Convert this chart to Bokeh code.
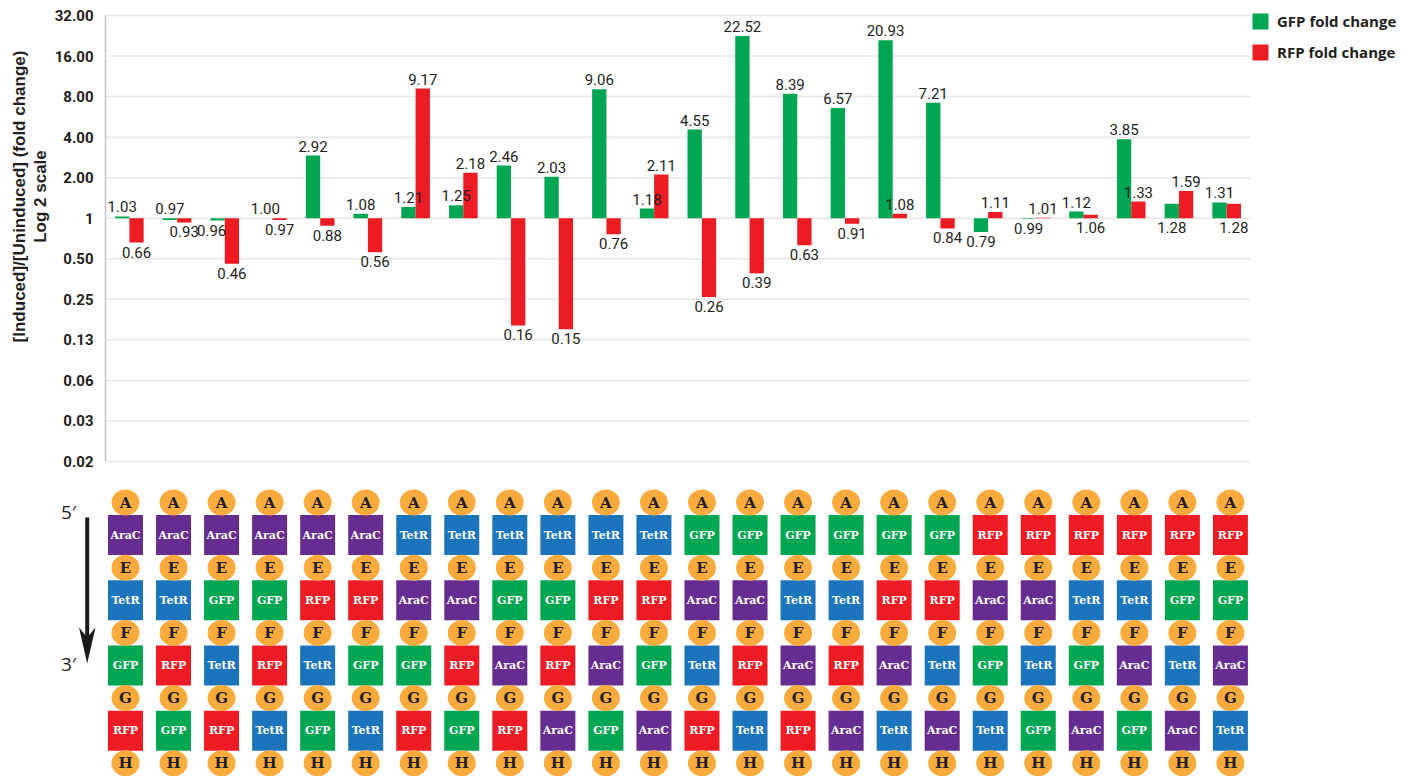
import math
from bokeh.plotting import figure
from bokeh.models import Range1d, Legend, LegendItem, ColumnDataSource, LinearScale
from bokeh.core.properties import value
from bokeh.embed import file_html
from bokeh.resources import INLINE

# ---------------- data ----------------
constructs = [str(i + 1) for i in range(24)]
gfp_fold = [1.03, 0.97, 0.96, 1.00, 2.92, 1.08, 1.21, 1.25, 2.46, 2.03, 9.06, 1.18,
            4.55, 22.52, 8.39, 6.57, 20.93, 7.21, 0.79, 0.99, 1.12, 3.85, 1.28, 1.31]
rfp_fold = [0.66, 0.93, 0.46, 0.97, 0.88, 0.56, 9.17, 2.18, 0.16, 0.15, 0.76, 2.11,
            0.26, 0.39, 0.63, 0.91, 1.08, 0.84, 1.11, 1.01, 1.06, 1.33, 1.59, 1.28]
# whether the value label sits under the bar / baseline
gfp_label_below = [False, False, True, False, False, False, False, False, False, False, False, False,
                   False, False, False, False, False, False, True, True, False, False, True, False]
rfp_label_below = [True, True, True, True, True, True, False, False, True, True, True, False,
                   True, True, True, True, False, True, False, False, True, False, False, True]

tick_values = [32, 16, 8, 4, 2, 1, 0.5, 0.25, 0.125, 0.0625, 0.03125, 0.015625]
tick_labels = ["32.00", "16.00", "8.00", "4.00", "2.00", "1", "0.50", "0.25", "0.13", "0.06", "0.03", "0.02"]
y_title_lines = ["[Induced]/[Uninduced] (fold change)", "Log 2 scale"]

node_letters = ["A", "E", "F", "G", "H"]
gene_pos1 = ["AraC"] * 6 + ["TetR"] * 6 + ["GFP"] * 6 + ["RFP"] * 6
gene_pos2 = ["TetR", "TetR", "GFP", "GFP", "RFP", "RFP", "AraC", "AraC", "GFP", "GFP", "RFP", "RFP",
             "AraC", "AraC", "TetR", "TetR", "RFP", "RFP", "AraC", "AraC", "TetR", "TetR", "GFP", "GFP"]
gene_pos3 = ["GFP", "RFP", "TetR", "RFP", "TetR", "GFP", "GFP", "RFP", "AraC", "RFP", "AraC", "GFP",
             "TetR", "RFP", "AraC", "RFP", "AraC", "TetR", "GFP", "TetR", "GFP", "AraC", "TetR", "AraC"]
gene_pos4 = ["RFP", "GFP", "RFP", "TetR", "GFP", "TetR", "RFP", "GFP", "RFP", "AraC", "GFP", "AraC",
             "RFP", "TetR", "RFP", "AraC", "TetR", "AraC", "TetR", "GFP", "AraC", "GFP", "AraC", "TetR"]

# ---------------- styles / geometry ----------------
GREEN = "#00A651"
RED = "#ED1C24"
gene_colors = {"AraC": "#662D91", "TetR": "#1C75BC", "GFP": "#00A651", "RFP": "#ED1C24"}
NODE = "#F9AB3E"
TXT = "#231F20"
VALFONT = "Roboto"
SLAB = "DejaVu Serif"

W, H = 1411, 776
PL, PR, PT = 105, 1250, 15           # plot-area left / right / top (px)
CHART_BOTTOM = 461                   # pixel of the lowest tick
n = len(constructs)
PX_COL = (PR - PL) / n
PX_OCT = (CHART_BOTTOM - PT) / 11.0  # pixels per doubling
y_min_tick, y_max_tick = 2 ** -6, 2 ** 5

# diagram geometry
D_COLW, D_COL0 = 48.04, 125.0        # column spacing / first column centre (px)
D_ROWH, D_ROW0 = 32.6, 502.0         # row spacing / first row centre (px)


def dx_of(px):
    return 0.5 + (px - D_COL0) / D_COLW


def dy_of(py):
    return -(py - D_ROW0) / D_ROWH


def mx_of(px):
    return (px - PL) / PX_COL


def my_of(py):
    return 2 ** (5 - (py - PT) / PX_OCT)


centers = [i + 0.5 for i in range(n)]
bw = 0.30

p = figure(width=W, height=H, x_range=Range1d(mx_of(0), mx_of(W)), y_range=Range1d(my_of(H), my_of(0)),
           y_axis_type="log", x_axis_location=None, y_axis_location=None,
           output_backend="svg", toolbar_location=None,
           min_border_left=0, min_border_right=0, min_border_top=0, min_border_bottom=0)
p.extra_x_ranges = {"dx": Range1d(dx_of(0), dx_of(W))}
p.extra_y_ranges = {"dy": Range1d(dy_of(H), dy_of(0))}
p.extra_y_scales = {"dy": LinearScale()}
p.outline_line_color = None
p.grid.visible = False

# ---- value axis (log 2): grid lines, axis rule, tick labels, title ----
p.segment(x0=[0] * len(tick_values), x1=[n] * len(tick_values), y0=tick_values, y1=tick_values,
          line_color="#E6E6E6", line_width=1.5)
p.segment(x0=[0], x1=[0], y0=[y_min_tick], y1=[y_max_tick], line_color="#C4C4C4", line_width=1.5)
p.text(x=[0] * len(tick_values), y=tick_values, text=tick_labels, x_offset=-12,
       text_font=value(VALFONT), text_font_style="bold", text_font_size="15px", text_color=TXT,
       text_align="right", text_baseline="middle")
p.text(x=[mx_of(19), mx_of(40)], y=[my_of(196)] * 2, text=y_title_lines, angle=math.pi / 2,
       text_font=value("Liberation Sans"), text_font_style="bold", text_font_size="17px",
       text_color=TXT, text_align="center", text_baseline="middle")

# ---- bars ----
gx = [c - bw / 2 for c in centers]
rx = [c + bw / 2 for c in centers]
g_r = p.vbar(x=gx, width=bw, bottom=1, top=gfp_fold, fill_color=GREEN, line_color=None)
r_r = p.vbar(x=rx, width=bw, bottom=1, top=rfp_fold, fill_color=RED, line_color=None)


def label_sources(xs, vals, below, other_vals, is_gfp):
    up = dict(x=[], y=[], t=[], dx=[])
    dn = dict(x=[], y=[], t=[], dx=[])
    for x, v, b, o in zip(xs, vals, below, other_vals):
        t = f"{v:.2f}"
        if b:
            dx = -6 if (is_gfp and o < v) else 0
            dn["x"].append(x); dn["y"].append(min(v, 1)); dn["t"].append(t); dn["dx"].append(dx)
        else:
            up["x"].append(x); up["y"].append(max(v, 1)); up["t"].append(t); up["dx"].append(0)
    return ColumnDataSource(up), ColumnDataSource(dn)


lab_kw = dict(text="t", text_font=value(VALFONT), text_font_size="15px", text_color=TXT,
              text_align="center", x_offset="dx")
for up, dn in (label_sources(gx, gfp_fold, gfp_label_below, rfp_fold, True),
               label_sources(rx, rfp_fold, rfp_label_below, gfp_fold, False)):
    p.text(x="x", y="y", source=up, text_baseline="bottom", y_offset=-4, **lab_kw)
    p.text(x="x", y="y", source=dn, text_baseline="top", y_offset=4, **lab_kw)

# ---- legend (inside the full-canvas frame, right of the plot area) ----
LEG_H = 20 + 11 + 20
legend = Legend(items=[LegendItem(label="GFP fold change", renderers=[g_r]),
                       LegendItem(label="RFP fold change", renderers=[r_r])],
                location=(PR, H - 11 - LEG_H), glyph_width=20, glyph_height=20, label_height=20,
                spacing=11, padding=0, margin=0, label_standoff=7,
                border_line_color=None, background_fill_alpha=0,
                label_text_font="Open Sans", label_text_font_style="bold",
                label_text_font_size="15px", label_text_color=TXT)
p.add_layout(legend)

# ---------------- construct diagram ----------------
gene_rows = [gene_pos1, gene_pos2, gene_pos3, gene_pos4]
dkw = dict(x_range_name="dx", y_range_name="dy")
for k, row in enumerate(gene_rows):
    yy = -(2 * k + 1)
    p.rect(x=centers, y=[yy] * n, width=35, height=40, width_units="screen", height_units="screen",
           fill_color=[gene_colors[g] for g in row], line_color=None, **dkw)
    p.text(x=centers, y=[yy] * n, text=row, text_font=value(SLAB),
           text_font_style="bold", text_font_size="11px", text_color="white",
           text_align="center", text_baseline="middle", **dkw)
for k, letter in enumerate(node_letters):
    yy = -(2 * k)
    p.ellipse(x=centers, y=[yy] * n, width=28, height=26, width_units="screen",
              height_units="screen", fill_color=NODE, line_color=None, **dkw)
    p.text(x=centers, y=[yy] * n, text=[letter] * n, text_font=value(SLAB),
           text_font_style="bold", text_font_size="15px", text_color=TXT,
           text_align="center", text_baseline="middle", **dkw)

# 5' -> 3' arrow
ax_x = dx_of(86.7)
p.line(x=[ax_x, ax_x], y=[dy_of(517), dy_of(640)], line_width=4, line_color="#1A1A1A", **dkw)
p.patch(x=[dx_of(86.7), dx_of(78.5), dx_of(86.7), dx_of(95)],
        y=[dy_of(663), dy_of(627), dy_of(637), dy_of(627)],
        fill_color="#1A1A1A", line_color=None, **dkw)
p.text(x=[dx_of(68)] * 2, y=[dy_of(511), dy_of(663)], text=["5\u2032", "3\u2032"],
       text_font=value("Open Sans"), text_font_size="19px", text_color=TXT,
       text_align="center", text_baseline="middle", **dkw)

open("out.html", "w").write(file_html(p, INLINE))
